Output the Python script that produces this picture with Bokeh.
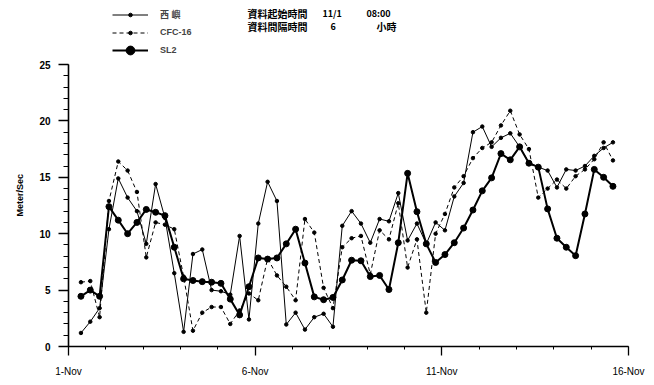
import pandas as pd
from bokeh.plotting import figure
from bokeh.models import Range1d, FixedTicker, Legend, LegendItem, Label, Title
from bokeh.embed import file_html
from bokeh.resources import INLINE

# ---- data: wind speed (m/s), every 6 hours from 11/1 08:00 ----
START = "2000-11-01 08:00"
STEP_HOURS = 6
DAY0 = "2000-11-01 00:00"

xiyu = [1.2, 2.2, 3.4, 10.4, 14.9, 13.2, 12.0, 9.1, 14.4, 11.4,
        6.5, 1.3, 8.2, 8.6, 5.0, 4.9, 4.6, 9.8, 2.4, 10.9,
        14.6, 12.9, 1.95, 3.0, 1.5, 2.6, 2.9, 1.75, 10.7, 12.0,
        10.9, 9.2, 11.3, 11.1, 13.6, 9.4, 10.9, 9.1, 11.0, 10.3,
        13.3, 14.5, 19.0, 19.5, 17.7, 18.5, 18.9, 17.7, 16.3, 15.9,
        15.6, 14.1, 15.7, 15.6, 16.0, 16.9, 17.6, 18.1]

cfc16 = [5.7, 5.8, 2.6, 12.9, 16.4, 15.6, 13.7, 7.9, 11.0, 10.8,
         10.4, 6.2, 1.4, 3.0, 3.5, 3.5, 2.0, 3.2, 4.7, 4.1,
         7.8, 6.3, 5.3, 4.1, 11.3, 10.1, 5.2, 3.4, 8.8, 9.6,
         9.8, 6.4, 10.3, 9.5, 12.7, 7.0, 9.5, 3.0, 10.0, 11.75,
         14.1, 15.1, 16.7, 17.6, 18.1, 19.6, 20.9, 18.8, 17.5, 13.2,
         14.0, 14.8, 14.0, 15.1, 15.7, 16.6, 18.1, 16.5]

sl2 = [4.45, 5.0, 4.45, 12.4, 11.2, 10.0, 11.0, 12.15, 11.9, 11.6,
       8.8, 6.0, 5.85, 5.75, 5.7, 5.6, 4.2, 2.8, 5.3, 7.85,
       7.75, 7.85, 9.1, 10.4, 7.4, 4.4, 4.15, 4.35, 5.9, 7.65,
       7.6, 6.2, 6.3, 5.05, 9.2, 15.35, 11.95, 9.1, 7.45, 8.15,
       9.2, 10.5, 12.1, 13.8, 14.95, 17.1, 16.55, 17.7, 16.25, 15.9,
       12.2, 9.6, 8.8, 8.05, 11.75, 15.7, 15.0, 14.2]

series_names = ["西 嶼", "CFC-16", "SL2"]
x_tick_days = [0, 5, 10, 15]
x_tick_labels = ["1-Nov", "6-Nov", "11-Nov", "16-Nov"]
y_ticks = [0, 5, 10, 15, 20, 25]
Y_MAX = 25

# time axis in days after 1-Nov 00:00
times = pd.date_range(START, periods=len(sl2), freq=f"{STEP_HOURS}h")
x = list((times - pd.Timestamp(DAY0)) / pd.Timedelta(days=1))

# ---- layout constants ----
W, H = 654, 385
LEFT, RIGHT, BOTTOM = 68, 26, 39
AXIS_TOP_PX = 64                     # where the value 25 sits on the canvas
FRAME_BOTTOM = H - BOTTOM
# the frame runs to the top of the canvas so the header and legend can sit inside it
y_top = Y_MAX * FRAME_BOTTOM / (FRAME_BOTTOM - AXIS_TOP_PX)

p = figure(width=W, height=H, x_range=Range1d(0, 15), y_range=Range1d(0, y_top),
           output_backend="svg", toolbar_location=None,
           min_border_left=LEFT, min_border_right=RIGHT,
           min_border_top=0, min_border_bottom=BOTTOM)
p.outline_line_color = None
p.xgrid.grid_line_color = None
p.ygrid.grid_line_color = None
p.background_fill_color = "white"
p.border_fill_color = "white"

# axes
xa = p.xaxis[0]
xa.ticker = FixedTicker(ticks=x_tick_days, minor_ticks=list(range(0, 16)))
xa.major_label_overrides = {d: t for d, t in zip(x_tick_days, x_tick_labels)}
xa.axis_line_width = 1.6
xa.axis_line_color = "black"
xa.major_tick_out = 9
xa.major_tick_in = 0
xa.minor_tick_out = 3
xa.minor_tick_in = 0
xa.major_tick_line_width = 1.3
xa.major_label_standoff = 10
xa.major_label_text_font = "Liberation Sans"
xa.major_label_text_font_size = "10px"
xa.major_label_text_color = "black"

ya = p.yaxis[0]
ya.ticker = FixedTicker(ticks=y_ticks, minor_ticks=list(range(0, Y_MAX + 1)))
ya.bounds = (0, Y_MAX)
ya.axis_line_width = 1.6
ya.axis_line_color = "black"
ya.major_tick_out = 10
ya.major_tick_in = 0
ya.minor_tick_out = 5
ya.minor_tick_in = 0
ya.major_tick_line_width = 1.3
ya.major_label_standoff = 8
ya.major_label_text_font = "Liberation Sans"
ya.major_label_text_font_style = "bold"
ya.major_label_text_font_size = "10px"
ya.major_label_text_color = "black"

# unit label beside the value axis (starts ~130 px above the axis foot)
p.add_layout(Title(text="Meter/Sec", align="left", offset=130, standoff=24,
                   text_font="Liberation Sans", text_font_style="bold",
                   text_font_size="9px", text_color="black"), "left")

# series
l1 = p.line(x, xiyu, line_color="black", line_width=1)
s1 = p.scatter(x, xiyu, size=3.5, color="black")
l2 = p.line(x, cfc16, line_color="black", line_width=1, line_dash="4 3")
s2 = p.scatter(x, cfc16, size=3.5, color="black")
l3 = p.line(x, sl2, line_color="black", line_width=2)
s3 = p.scatter(x, sl2, size=6, color="black")

legend_style = dict(glyph_width=36, label_height=16, spacing=2, padding=0, margin=0,
                    label_standoff=12, border_line_color=None, background_fill_alpha=0,
                    label_text_font="Liberation Sans, Noto Sans CJK TC",
                    label_text_font_style="bold", label_text_font_size="9px")

# thin series: small sample markers
legend_thin = Legend(items=[LegendItem(label=series_names[0], renderers=[l1, s1]),
                            LegendItem(label=series_names[1], renderers=[l2, s2])],
                     location=(112 - LEFT, FRAME_BOTTOM - 40), glyph_height=9,
                     **legend_style)
# model run SL2: large sample marker
legend_sl2 = Legend(items=[LegendItem(label=series_names[2], renderers=[l3, s3])],
                    location=(112 - LEFT, FRAME_BOTTOM - 61), glyph_height=22,
                    **legend_style)
p.add_layout(legend_thin)
p.add_layout(legend_sl2)

# header notes
def note(text, sx, sy, size="10px"):
    p.add_layout(Label(x=sx - LEFT, y=FRAME_BOTTOM - sy, x_units="screen", y_units="screen",
                       text=text, text_font="Noto Sans CJK TC", text_font_style="bold",
                       text_font_size=size, text_baseline="middle", text_color="black"))

note("資料起始時間", 247, 13)
note("11/1", 322, 13, "9px")
note("08:00", 366, 13, "9px")
note("資料間隔時間", 247, 26)
note("6", 330, 26, "9px")
note("小時", 376, 26)

open("out.html", "w").write(file_html(p, INLINE))
